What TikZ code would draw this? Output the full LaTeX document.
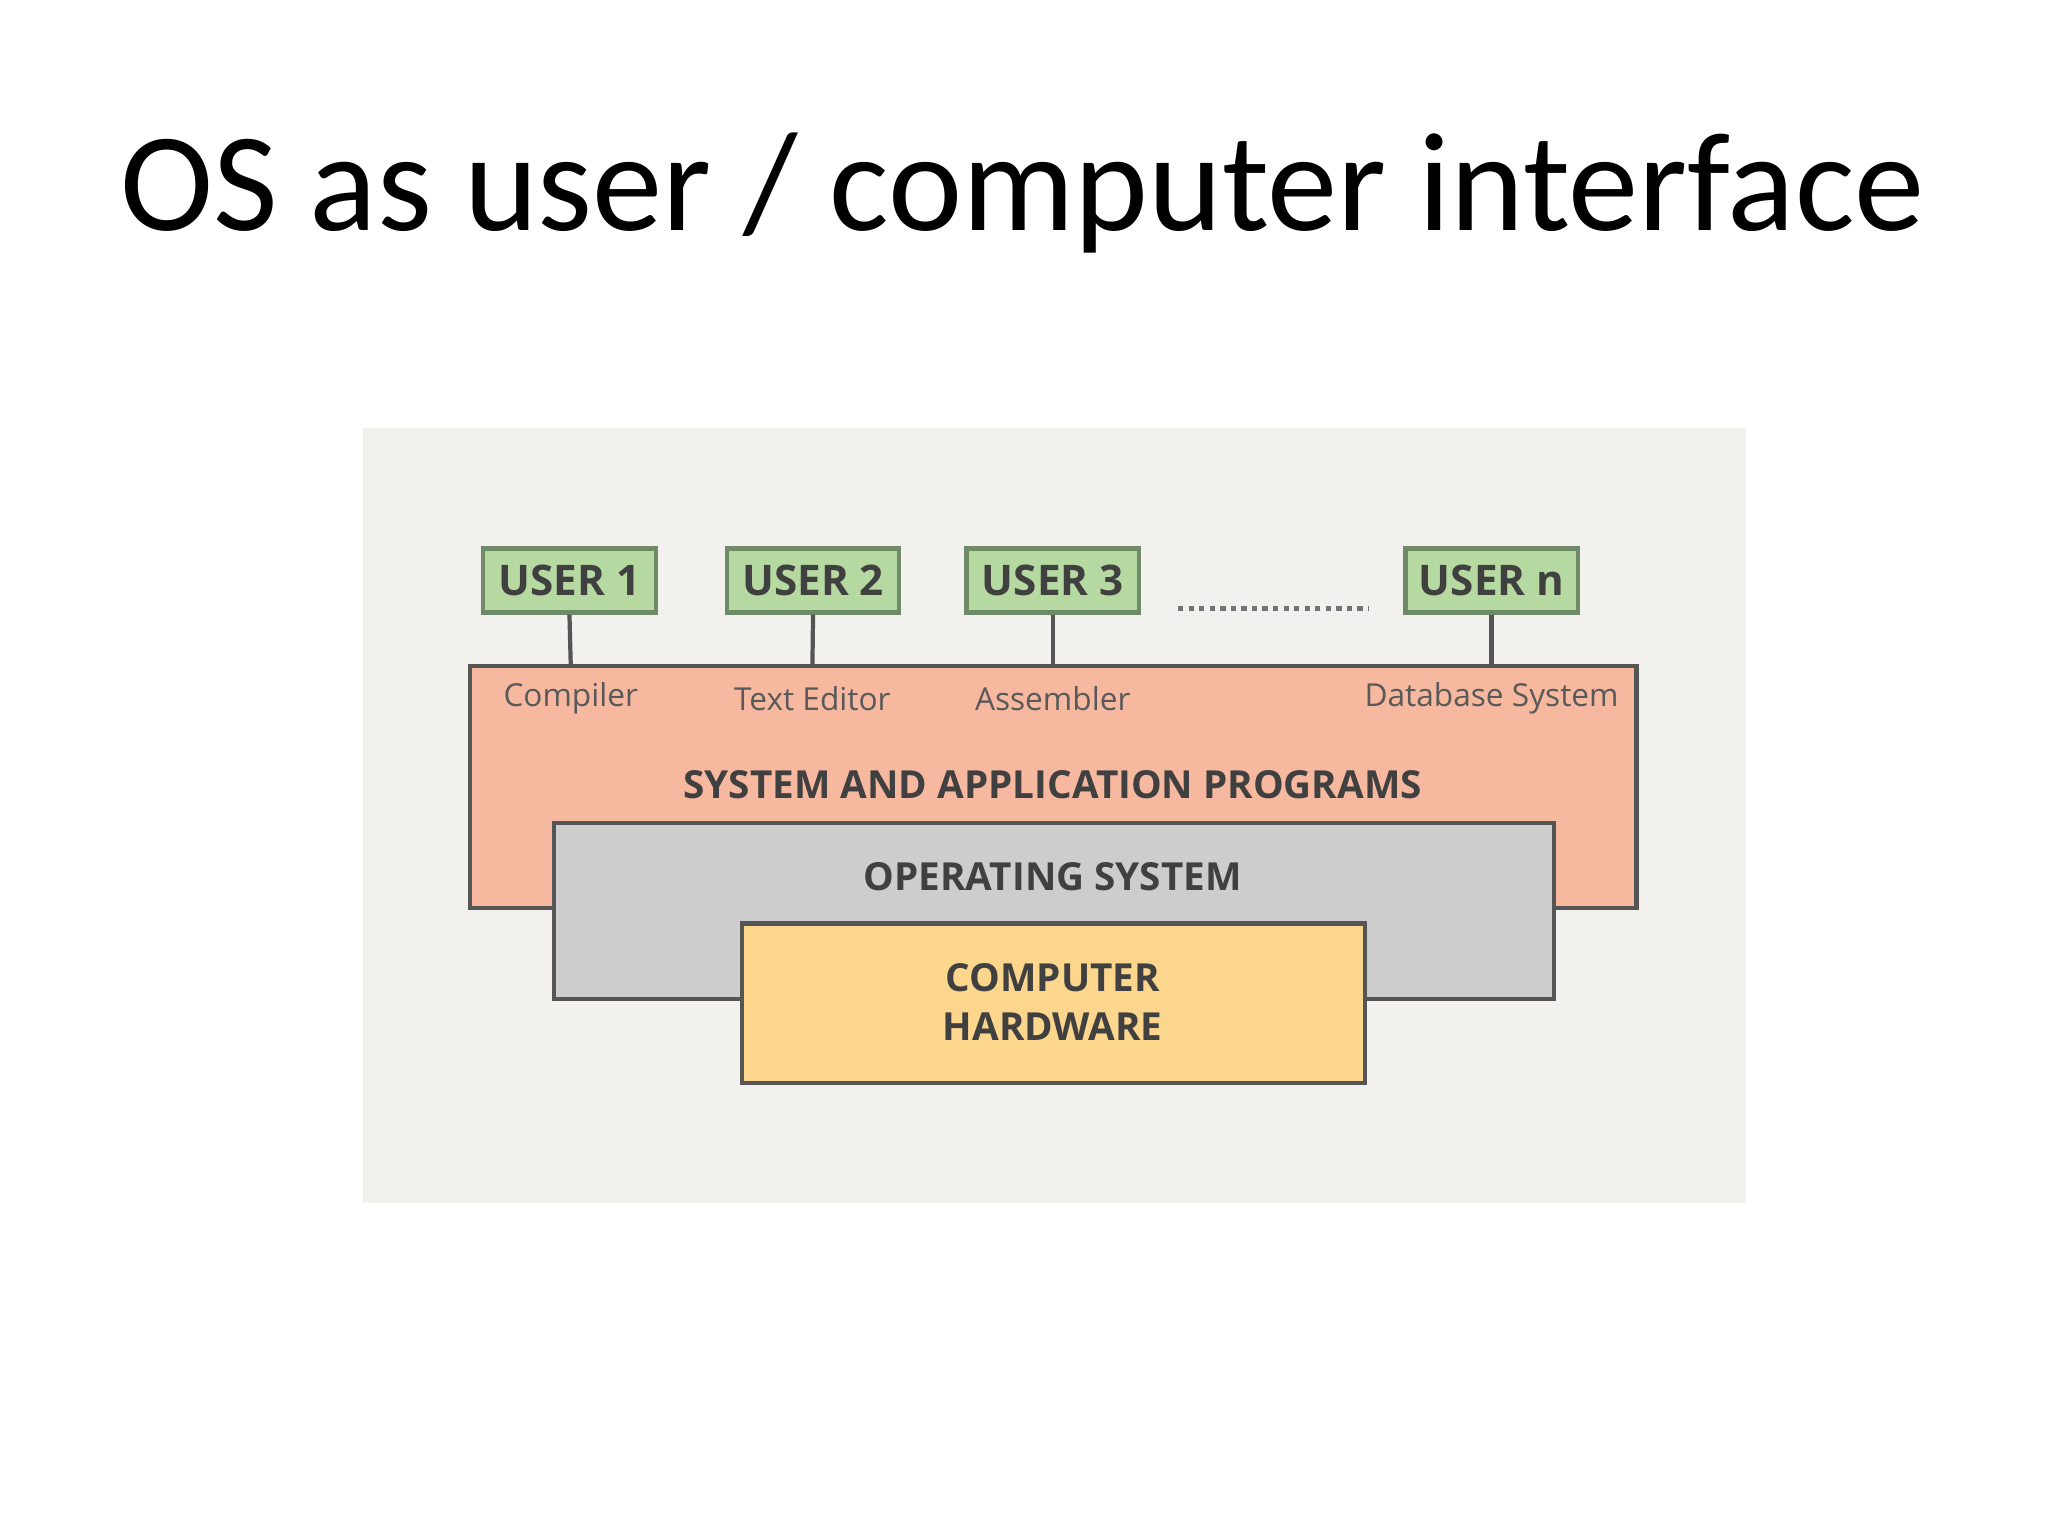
\documentclass[tikz,border=0pt]{standalone}
\usepackage{fontspec}
\setmainfont{Carlito}
\newfontfamily\diag{Open Sans}
\definecolor{bgc}{HTML}{F3F1EE}
\definecolor{userc}{HTML}{B5D9A0}
\definecolor{userb}{HTML}{6E8A66}
\definecolor{pinkc}{HTML}{F7B8A0}
\definecolor{grayc}{HTML}{CDCDCD}
\definecolor{yelc}{HTML}{FDD68E}
\definecolor{linec}{HTML}{555555}
\begin{document}
\begin{tikzpicture}[x=0.013061cm,y=-0.013061cm,
  user/.style={draw=userb,line width=1.2pt,fill=userc,minimum width=1.724cm,minimum height=0.64cm,inner sep=0pt,font=\diag\fontsize{12}{14}\selectfont\bfseries,text=black!75},
  lab/.style={font=\diag\fontsize{9}{11}\selectfont,text=black!65},
  captxt/.style={font=\diag\fontsize{11}{14}\selectfont\bfseries,text=black!75,align=center},
  conn/.style={draw=linec,line width=1.2pt}]
\useasboundingbox (0,0) rectangle (1568,1176);
\fill[white] (0,0) rectangle (1568,1176);
\node[font=\fontsize{40}{48}\selectfont] (title) at (783,148) {OS as user / computer interface};
\fill[bgc] (278,328) rectangle (1337,921);
\draw[conn,fill=pinkc] (360,510) rectangle (1253,695);
\draw[conn,fill=grayc] (424,630) rectangle (1190,765);
\draw[conn,fill=yelc] (568,707) rectangle (1045,829);
\coordinate (p1) at (437,510);
\coordinate (p2) at (622,510);
\coordinate (p3) at (806,510);
\coordinate (p4) at (1142,510);
\node[user] (u1) at (436,444.5) {USER 1};
\node[user] (u2) at (622.5,444.5) {USER 2};
\node[user] (u3) at (806,444.5) {USER 3};
\node[user] (un) at (1142,444.5) {USER n};
\draw[conn] (u1.south) -- (p1);
\draw[conn] (u2.south) -- (p2);
\draw[conn] (u3.south) -- (p3);
\draw[conn] (un.south) -- (p4);
\coordinate (d1) at (902,466);
\coordinate (d2) at (1048,466);
\draw[line width=1.5pt,black!55,dash pattern=on 1.5pt off 1.5pt] (d1) -- (d2);
\node[lab] (l1) at (437,535) {Compiler};
\node[lab] (l2) at (622,535) {Text Editor};
\node[lab] (l3) at (806,535) {Assembler};
\node[lab] (l4) at (1142,535) {Database System};
\node[captxt] (sap) at (806,601) {SYSTEM AND APPLICATION PROGRAMS};
\node[captxt] (os) at (806,671) {OPERATING SYSTEM};
\node[captxt] (hw) at (806,767) {COMPUTER\\HARDWARE};
\end{tikzpicture}
\end{document}
